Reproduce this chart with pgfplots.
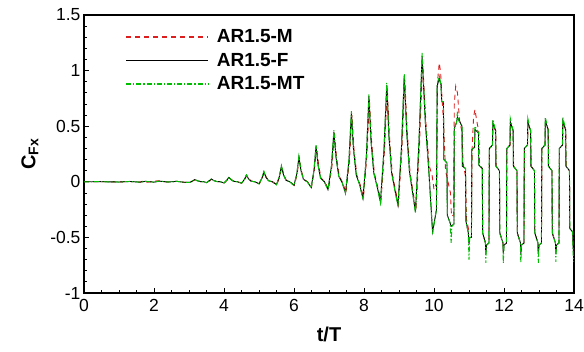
\documentclass[border=0pt]{standalone}
\usepackage{pgfplots}
\pgfplotsset{compat=1.18}
\usepackage{fontspec}
\setmainfont{Liberation Sans}
\definecolor{cred}{RGB}{220,30,30}
\definecolor{cgreen}{RGB}{0,190,0}
\begin{document}
\begin{tikzpicture}
\begin{axis}[
  scale only axis, width=490pt, height=278pt,
  at={(84pt,58pt)}, anchor=south west,
  xmin=0, xmax=14, ymin=-1, ymax=1.5,
  xtick={0,2,...,14}, ytick={-1,-0.5,0,0.5,1,1.5},
  minor x tick num=3, minor y tick num=4,
  tick align=inside, xtick pos=bottom, ytick pos=left,
  major tick length=5pt, minor tick length=3pt,
  axis line style={line width=1.1pt},
  every tick/.style={black, line width=0.8pt},
  /pgf/number format/assume math mode=true,
  tick label style={font=\fontsize{17.5}{17.5}\selectfont},
  xticklabel style={yshift=-3pt},
  xlabel={\textbf{t/T}}, ylabel={\textbf{C\textsubscript{Fx}}},
  label style={font=\fontsize{20}{20}\selectfont},
  xlabel style={yshift=-8pt},
  ylabel style={yshift=5pt},
  legend image code/.code={\draw[#1, line width=1.4pt] (0pt,0pt) -- (82pt,0pt);},
  legend style={draw=none, fill=none, at={(axis description cs:0.078,0.962)}, anchor=north west,
    font=\bfseries\fontsize{19}{19}\selectfont, row sep=5pt,
    /tikz/every odd column/.append style={column sep=6pt}},
  legend cell align=left,
]
\addplot[cred, line width=0.9pt, dash pattern=on 5pt off 4pt] coordinates {
(0,0) (0.5,0.001) (1.0,-0.002) (1.3,0.003) (1.6,-0.003) (1.72,0.01) (1.8,-0.004) (2.1,0.009) (2.4,-0.002) (2.65,0.004) (2.85,-0.004)
(3.03,-0.006) (3.11,0.008) (3.18,0.02) (3.24,0.01) (3.33,0.002) (3.44,0.0) (3.51,-0.008) (3.59,0.01) (3.65,0.024) (3.71,0.012) (3.79,0.003) (3.91,0.0)
(4.01,-0.01) (4.09,0.015) (4.15,0.039) (4.21,0.02) (4.28,0.005) (4.39,0.0) (4.51,-0.012) (4.59,0.02) (4.65,0.058) (4.71,0.027) (4.78,0.006) (4.89,0.0)
(5.01,-0.018) (5.09,0.03) (5.15,0.087) (5.21,0.04) (5.28,0.01) (5.39,0.0) (5.51,-0.025) (5.59,0.045) (5.65,0.135) (5.71,0.063) (5.78,0.014) (5.89,0.0)
(6.01,-0.032) (6.09,0.07) (6.15,0.21) (6.21,0.1) (6.28,0.022) (6.39,0.0) (6.50,-0.05) (6.58,0.1) (6.645,0.31) (6.705,0.145) (6.775,0.032) (6.885,0.0)
(6.985,-0.07) (7.085,0.14) (7.155,0.44) (7.215,0.22) (7.295,0.05) (7.395,-0.01) (7.485,-0.1) (7.585,0.19) (7.655,0.6) (7.715,0.29) (7.795,0.06) (7.895,-0.03)
(7.985,-0.14) (8.085,0.24) (8.155,0.74) (8.215,0.37) (8.295,0.08) (8.395,-0.05) (8.485,-0.17) (8.585,0.28) (8.665,0.84) (8.725,0.42) (8.805,0.08) (8.895,-0.07)
(8.985,-0.2) (9.085,0.3) (9.165,0.92) (9.235,0.45) (9.315,0.09) (9.405,-0.1) (9.485,-0.25) (9.585,0.33) (9.675,1.08) (9.765,0.55) (9.86,0.15) (9.95,0.05)
(10.0,-0.07) (10.08,0.0) (10.1,0.9) (10.15,1.07) (10.19,0.98) (10.22,0.8) (10.27,0.55) (10.33,0.1) (10.4,0.0) (10.47,-0.1) (10.5,-0.31) (10.56,-0.3)
(10.58,0.7) (10.62,0.86) (10.67,0.8) (10.73,0.55) (10.8,0.45) (10.83,0.17) (10.9,0.05) (10.93,-0.34) (10.99,-0.43) (11.03,-0.45) (11.07,-0.45)
(11.09,0.3) (11.13,0.58) (11.17,0.65) (11.22,0.55) (11.28,0.45) (11.30,0.15) (11.38,0.12) (11.39,-0.46) (11.47,-0.55) (11.48,-0.63) (11.50,-0.57) (11.57,-0.55)
(11.585,0.30) (11.675,0.33) (11.685,0.5) (11.765,0.46) (11.775,0.14) (11.87,0.10) (11.88,-0.46) (11.97,-0.55) (11.98,-0.63) (12.00,-0.57) (12.07,-0.55)
(12.085,0.30) (12.175,0.33) (12.185,0.52) (12.265,0.46) (12.275,0.14) (12.37,0.10) (12.38,-0.46) (12.47,-0.55) (12.48,-0.63) (12.50,-0.57) (12.57,-0.55)
(12.585,0.30) (12.675,0.33) (12.685,0.52) (12.765,0.46) (12.775,0.14) (12.87,0.10) (12.88,-0.46) (12.97,-0.55) (12.98,-0.63) (13.00,-0.57) (13.07,-0.55)
(13.085,0.30) (13.175,0.33) (13.185,0.53) (13.265,0.47) (13.275,0.14) (13.37,0.10) (13.38,-0.46) (13.47,-0.55) (13.48,-0.63) (13.50,-0.57) (13.57,-0.55)
(13.585,0.30) (13.675,0.33) (13.685,0.53) (13.765,0.47) (13.775,0.14) (13.87,0.10) (13.88,-0.42) (13.96,-0.45) (13.98,-0.6) (14.0,-0.62)
};
\addlegendentry{AR1.5-M}
\addplot[black, line width=0.9pt] coordinates {
(0,0) (0.5,0.001) (1.0,-0.002) (1.3,0.003) (1.6,-0.003) (1.75,0.004) (2.0,-0.003) (2.15,0.006) (2.4,-0.002) (2.65,0.004) (2.85,-0.004)
(3.02,-0.006) (3.10,0.008) (3.17,0.02) (3.23,0.01) (3.32,0.002) (3.43,0.0) (3.50,-0.008) (3.58,0.01) (3.64,0.025) (3.70,0.012) (3.78,0.003) (3.9,0.0)
(4.00,-0.01) (4.08,0.015) (4.14,0.04) (4.20,0.02) (4.27,0.005) (4.38,0.0) (4.50,-0.012) (4.58,0.02) (4.64,0.06) (4.70,0.027) (4.77,0.006) (4.88,0.0)
(5.00,-0.018) (5.08,0.03) (5.14,0.09) (5.20,0.04) (5.27,0.01) (5.38,0.0) (5.50,-0.025) (5.58,0.045) (5.64,0.14) (5.70,0.063) (5.77,0.014) (5.88,0.0)
(6.00,-0.032) (6.08,0.07) (6.14,0.22) (6.20,0.1) (6.27,0.022) (6.38,0.0) (6.49,-0.05) (6.57,0.1) (6.63,0.32) (6.69,0.145) (6.76,0.032) (6.87,0.0)
(6.97,-0.07) (7.07,0.14) (7.14,0.45) (7.20,0.22) (7.28,0.05) (7.38,-0.01) (7.47,-0.1) (7.57,0.19) (7.64,0.62) (7.70,0.29) (7.78,0.06) (7.88,-0.03)
(7.97,-0.15) (8.07,0.24) (8.14,0.77) (8.20,0.37) (8.28,0.08) (8.38,-0.05) (8.47,-0.18) (8.57,0.28) (8.65,0.87) (8.71,0.42) (8.79,0.08) (8.88,-0.07)
(8.97,-0.21) (9.07,0.3) (9.15,0.95) (9.22,0.45) (9.30,0.09) (9.39,-0.1) (9.47,-0.27) (9.57,0.35) (9.66,1.13) (9.75,0.55) (9.85,0.11) (9.96,-0.45)
(10.0,-0.38) (10.07,-0.25) (10.09,0.86) (10.15,0.93) (10.2,0.87) (10.22,0.72) (10.27,0.72) (10.28,0.2) (10.37,0.17) (10.38,-0.3) (10.46,-0.37) (10.49,-0.4) (10.57,-0.38)
(10.58,0.48) (10.64,0.53) (10.67,0.58) (10.72,0.55) (10.8,0.5) (10.81,0.14) (10.9,0.12) (10.91,-0.35) (10.98,-0.46) (11.0,-0.56) (11.02,-0.5) (11.07,-0.5)
(11.08,0.29) (11.16,0.31) (11.17,0.47) (11.27,0.44) (11.28,0.15) (11.38,0.12) (11.39,-0.46) (11.47,-0.55) (11.48,-0.65) (11.50,-0.57) (11.57,-0.55)
(11.58,0.30) (11.67,0.33) (11.68,0.53) (11.76,0.46) (11.77,0.14) (11.87,0.10) (11.88,-0.46) (11.97,-0.55) (11.98,-0.65) (12.00,-0.57) (12.07,-0.55)
(12.08,0.30) (12.17,0.33) (12.18,0.54) (12.26,0.46) (12.27,0.14) (12.37,0.10) (12.38,-0.46) (12.47,-0.55) (12.48,-0.65) (12.50,-0.57) (12.57,-0.55)
(12.58,0.30) (12.67,0.33) (12.68,0.54) (12.76,0.46) (12.77,0.14) (12.87,0.10) (12.88,-0.46) (12.97,-0.55) (12.98,-0.65) (13.00,-0.57) (13.07,-0.55)
(13.08,0.30) (13.17,0.33) (13.18,0.55) (13.26,0.47) (13.27,0.14) (13.37,0.10) (13.38,-0.46) (13.47,-0.55) (13.48,-0.65) (13.50,-0.57) (13.57,-0.55)
(13.58,0.30) (13.67,0.33) (13.68,0.55) (13.76,0.47) (13.77,0.14) (13.87,0.10) (13.88,-0.42) (13.96,-0.45) (13.98,-0.63) (14.0,-0.65)
};
\addlegendentry{AR1.5-F}
\addplot[cgreen, line width=1pt, dash pattern=on 5pt off 2pt on 1.2pt off 2pt] coordinates {
(0,0) (0.5,0.001) (1.0,-0.002) (1.3,0.003) (1.6,-0.003) (1.75,0.004) (2.0,-0.003) (2.15,0.006) (2.4,-0.002) (2.65,0.004) (2.85,-0.004)
(3.02,-0.006) (3.10,0.008) (3.17,0.021) (3.23,0.01) (3.32,0.002) (3.43,0.0) (3.50,-0.008) (3.58,0.01) (3.64,0.026) (3.70,0.012) (3.78,0.003) (3.9,0.0)
(4.00,-0.01) (4.08,0.015) (4.14,0.042) (4.20,0.02) (4.27,0.005) (4.38,0.0) (4.50,-0.012) (4.58,0.02) (4.64,0.062) (4.70,0.027) (4.77,0.006) (4.88,0.0)
(5.00,-0.02) (5.08,0.03) (5.14,0.093) (5.20,0.04) (5.27,0.01) (5.38,0.0) (5.50,-0.027) (5.58,0.045) (5.64,0.145) (5.70,0.063) (5.77,0.014) (5.88,0.0)
(6.00,-0.035) (6.08,0.07) (6.14,0.23) (6.20,0.1) (6.27,0.022) (6.38,0.0) (6.49,-0.055) (6.57,0.1) (6.63,0.33) (6.69,0.145) (6.76,0.032) (6.87,0.0)
(6.97,-0.075) (7.07,0.14) (7.14,0.465) (7.20,0.22) (7.28,0.05) (7.38,-0.01) (7.47,-0.105) (7.57,0.19) (7.64,0.635) (7.70,0.29) (7.78,0.06) (7.88,-0.03)
(7.97,-0.16) (8.07,0.24) (8.14,0.785) (8.20,0.37) (8.28,0.08) (8.38,-0.05) (8.47,-0.19) (8.57,0.28) (8.65,0.89) (8.71,0.42) (8.79,0.08) (8.88,-0.07)
(8.97,-0.22) (9.07,0.3) (9.15,0.97) (9.22,0.45) (9.30,0.09) (9.39,-0.1) (9.47,-0.28) (9.57,0.35) (9.66,1.16) (9.75,0.55) (9.85,0.11) (9.96,-0.47)
(10.0,-0.38) (10.07,-0.25) (10.09,0.88) (10.15,0.95) (10.2,0.87) (10.22,0.72) (10.27,0.72) (10.28,0.2) (10.37,0.17) (10.38,-0.3) (10.46,-0.37) (10.49,-0.55) (10.51,-0.4) (10.57,-0.38)
(10.58,0.48) (10.64,0.53) (10.67,0.63) (10.69,0.56) (10.8,0.5) (10.81,0.14) (10.9,0.12) (10.91,-0.35) (10.98,-0.46) (11.0,-0.70) (11.02,-0.5) (11.07,-0.5)
(11.08,0.29) (11.16,0.31) (11.17,0.5) (11.27,0.44) (11.28,0.15) (11.38,0.12) (11.39,-0.46) (11.47,-0.55) (11.48,-0.73) (11.50,-0.57) (11.57,-0.55)
(11.58,0.30) (11.67,0.33) (11.68,0.56) (11.76,0.46) (11.77,0.14) (11.87,0.10) (11.88,-0.46) (11.97,-0.55) (11.98,-0.73) (12.00,-0.57) (12.07,-0.55)
(12.08,0.30) (12.17,0.33) (12.18,0.57) (12.26,0.46) (12.27,0.14) (12.37,0.10) (12.38,-0.46) (12.47,-0.55) (12.48,-0.73) (12.50,-0.57) (12.57,-0.55)
(12.58,0.30) (12.67,0.33) (12.68,0.57) (12.76,0.46) (12.77,0.14) (12.87,0.10) (12.88,-0.46) (12.97,-0.55) (12.98,-0.73) (13.00,-0.57) (13.07,-0.55)
(13.08,0.30) (13.17,0.33) (13.18,0.58) (13.26,0.47) (13.27,0.14) (13.37,0.10) (13.38,-0.46) (13.47,-0.55) (13.48,-0.72) (13.50,-0.57) (13.57,-0.55)
(13.58,0.30) (13.67,0.33) (13.68,0.58) (13.76,0.47) (13.77,0.14) (13.87,0.10) (13.88,-0.42) (13.96,-0.45) (13.98,-0.68) (14.0,-0.72)
};
\addlegendentry{AR1.5-MT}
\end{axis}
\pgfresetboundingbox
\useasboundingbox (0,0) rectangle (584pt,351pt);
\end{tikzpicture}
\end{document}
